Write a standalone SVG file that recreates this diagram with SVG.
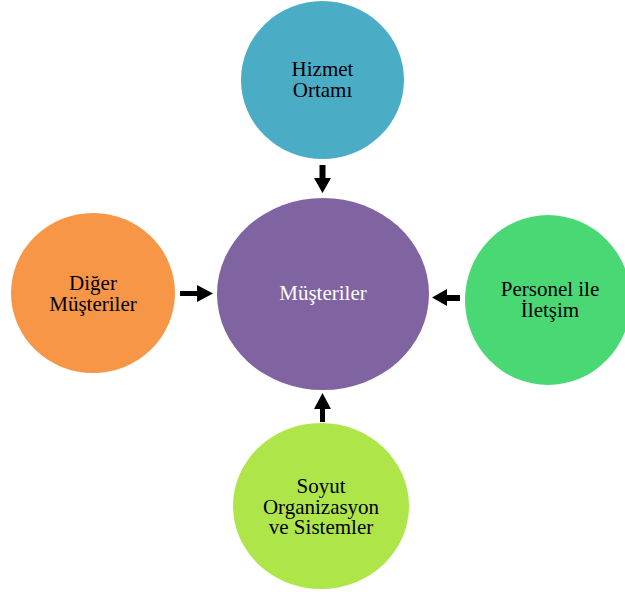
<svg xmlns="http://www.w3.org/2000/svg" width="625" height="592" viewBox="0 0 625 592">
  <style>
    .lbl { font-family: "Liberation Serif", "Times New Roman", serif; font-size: 21px; fill: #000; text-anchor: middle; }
    .white { fill: #fff; }
    .arrow { fill: #000; }
  </style>
  <rect width="625" height="592" fill="#fff"/>

  <g id="hizmet-ortami">
    <ellipse cx="322.5" cy="80" rx="81.5" ry="79" fill="#4BACC6"/>
    <text class="lbl" x="322.5" y="76">Hizmet</text>
    <text class="lbl" x="322.5" y="97">Ortamı</text>
  </g>

  <g id="musteriler">
    <ellipse cx="323" cy="294" rx="106" ry="96" fill="#8064A2"/>
    <text class="lbl white" x="323" y="300">Müşteriler</text>
  </g>

  <g id="diger-musteriler">
    <ellipse cx="93" cy="293" rx="82" ry="80" fill="#F79646"/>
    <text class="lbl" x="93" y="290">Diğer</text>
    <text class="lbl" x="93" y="311">Müşteriler</text>
  </g>

  <g id="personel-ile-iletisim">
    <ellipse cx="548" cy="300" rx="83" ry="85" fill="#4AD875"/>
    <text class="lbl" x="550" y="296">Personel ile</text>
    <text class="lbl" x="550" y="317">İletşim</text>
  </g>

  <g id="soyut-organizasyon">
    <ellipse cx="321" cy="506" rx="88" ry="83" fill="#AEE64A"/>
    <text class="lbl" x="321" y="493">Soyut</text>
    <text class="lbl" x="321" y="514">Organizasyon</text>
    <text class="lbl" x="321" y="534">ve Sistemler</text>
  </g>

  <g id="connectors">
    <!-- top: pointing down -->
    <polygon class="arrow" points="319.5,165 325.5,165 325.5,178 331,178 322.5,193 314,178 319.5,178"/>
    <!-- left: pointing right -->
    <polygon class="arrow" points="180,291 197,291 197,285 213,293.5 197,302 197,296 180,296"/>
    <!-- right: pointing left -->
    <polygon class="arrow" points="460,295 447,295 447,289 432,297.5 447,306 447,301 460,301"/>
    <!-- bottom: pointing up -->
    <polygon class="arrow" points="320,422 325,422 325,409 331,409 322.5,393 314,409 320,409"/>
  </g>
</svg>
